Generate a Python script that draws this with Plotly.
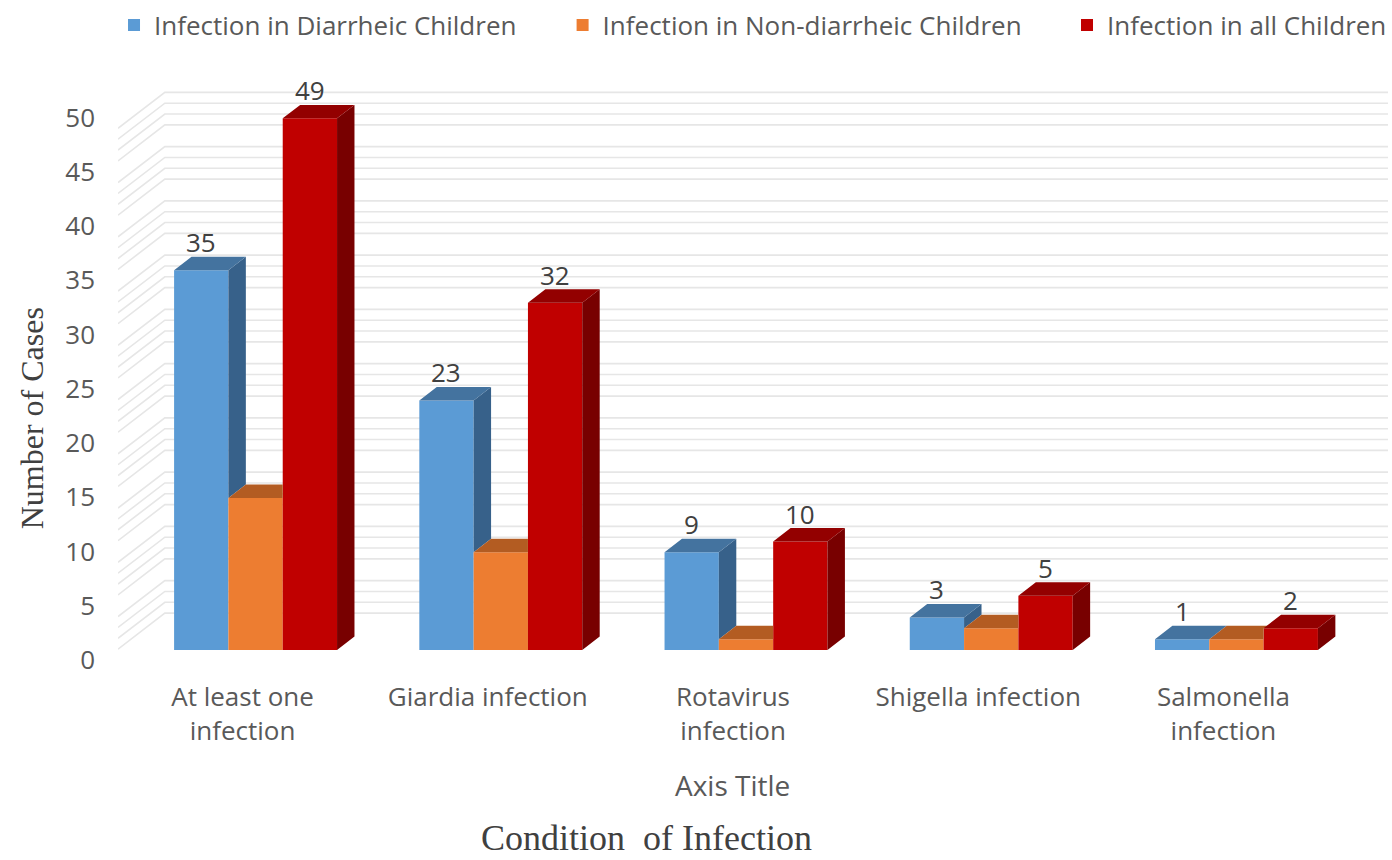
import plotly.graph_objects as go

# ---------------- data ----------------
categories = ["At least one<br>infection", "Giardia infection", "Rotavirus<br>infection",
              "Shigella infection", "Salmonella<br>infection"]
series_names = ["Infection in Diarrheic Children",
                "Infection in Non-diarrheic Children",
                "Infection in all Children"]
diarrheic = [35, 23, 9, 3, 1]
non_diarrheic = [14, 9, 1, 2, 1]
all_children = [49, 32, 10, 5, 2]
series_values = [diarrheic, non_diarrheic, all_children]
show_labels = [True, False, True]
y_ticks = [0, 5, 10, 15, 20, 25, 30, 35, 40, 45, 50]
x_title = "Axis Title"
x_title_2 = "Condition\u00a0 of Infection"
y_title = "Number of Cases"

# ---------------- styles ----------------
front_colors = ["#5B9BD5", "#ED7D31", "#C00000"]
top_colors = ["#44739F", "#B35C22", "#930000"]
side_colors = ["#37618A", "#94501E", "#780000"]

W_FIG, H_FIG = 1392, 860
M_L, M_R, M_T, M_B = 118, 0, 60, 200
X_RANGE = [-0.561, 4.618]
Y_RANGE = [-0.92, 54.38]
BAR_W = 0.2215
OFFSETS = [-1.5 * BAR_W, -0.5 * BAR_W, 0.5 * BAR_W]
DX, DY = 0.0711, 1.244          # depth of the 3-D columns (data units)
WALL_X = -0.37                   # back wall left edge
WALL_DY = 2.4                    # back wall vertical offset
WALL_FRONT_DY = -0.92

plot_w = W_FIG - M_L - M_R
plot_h = H_FIG - M_T - M_B


def px_x(px):
    return (px - M_L) / plot_w


def px_y(py):
    return (H_FIG - M_B - py) / plot_h


TXT = "#595959"
DARK = "#404040"
SANS = "Open Sans"
SERIF = "Liberation Serif"
FS = 26

fig = go.Figure()
xs = list(range(len(categories)))

# front faces
legend_ids = ["legend", "legend2", "legend3"]
for k, vals in enumerate(series_values):
    fig.add_trace(go.Bar(
        x=xs, y=vals, name=series_names[k], width=BAR_W, offset=OFFSETS[k],
        marker=dict(color=front_colors[k], line=dict(width=0)),
        legend=legend_ids[k], hoverinfo="y"))

# side and top faces
for k, vals in enumerate(series_values):
    sx, sy, tx, ty = [], [], [], []
    for i, h in enumerate(vals):
        xl = i + OFFSETS[k]
        xr = xl + BAR_W
        nxt = series_values[k + 1][i] if k + 1 < len(series_values) else None
        base = nxt if nxt is not None else 0
        if h > base:
            sx += [xr, xr, xr + DX, xr + DX, xr, None]
            sy += [base, h, h + DY, base + DY, base, None]
        if nxt is None or nxt <= h:
            px_ = [xl, xr, xr + DX, xl + DX, xl]
            py_ = [h, h, h + DY, h + DY, h]
        elif nxt >= h + DY:
            px_ = [xl, xr, xr, xl + DX, xl]
            py_ = [h, h, h + DY, h + DY, h]
        else:
            cut = xr + (nxt - h) / DY * DX
            px_ = [xl, xr, xr, cut, xr + DX, xl + DX, xl]
            py_ = [h, h, nxt, nxt, h + DY, h + DY, h]
        tx += px_ + [None]
        ty += py_ + [None]
    fig.add_trace(go.Scatter(x=sx, y=sy, mode="lines", fill="toself",
                             fillcolor=side_colors[k], line=dict(width=0),
                             showlegend=False, hoverinfo="skip"))
    fig.add_trace(go.Scatter(x=tx, y=ty, mode="lines", fill="toself",
                             fillcolor=top_colors[k], line=dict(width=0),
                             showlegend=False, hoverinfo="skip"))

# back wall / side wall gridlines
path = ""
for v in range(1, y_ticks[-1]):
    if v % 5 == 0:
        continue
    path += (f"M{X_RANGE[0]},{v + WALL_FRONT_DY} L{WALL_X},{v + WALL_DY} "
             f"L{X_RANGE[1]},{v + WALL_DY} ")
fig.add_shape(type="path", path=path, xref="x", yref="y", layer="below",
              line=dict(color="#E6E6E6", width=1.6))

# data labels
annotations = []
for k, vals in enumerate(series_values):
    if not show_labels[k]:
        continue
    for i, h in enumerate(vals):
        annotations.append(dict(
            x=i + OFFSETS[k] + BAR_W / 2, y=h, xref="x", yref="y",
            text=str(h), showarrow=False, yanchor="middle", yshift=28,
            font=dict(family=SANS, size=FS, color=DARK)))

annotations += [
    dict(x=px_x(734), y=px_y(785), xref="paper", yref="paper", text=x_title,
         showarrow=False, xanchor="center", yanchor="middle",
         font=dict(family=SANS, size=28, color=TXT)),
    dict(x=px_x(648), y=px_y(838), xref="paper", yref="paper", text=x_title_2,
         showarrow=False, xanchor="center", yanchor="middle",
         font=dict(family=SERIF, size=36, color=DARK)),
    dict(x=px_x(32), y=px_y(418), xref="paper", yref="paper", text=y_title,
         showarrow=False, xanchor="center", yanchor="middle", textangle=-90,
         font=dict(family=SERIF, size=32, color=DARK)),
]

leg_font = dict(family=SANS, size=FS, color=TXT)
leg_common = dict(orientation="h", yanchor="middle", xanchor="left",
                  font=leg_font, bgcolor="rgba(0,0,0,0)", itemclick=False)
fig.update_layout(
    width=W_FIG, height=H_FIG,
    margin=dict(l=M_L, r=M_R, t=M_T, b=M_B, pad=0),
    paper_bgcolor="white", plot_bgcolor="white",
    barmode="overlay",
    showlegend=True,
    legend=dict(x=px_x(114), y=px_y(25), **leg_common),
    legend2=dict(x=px_x(564), y=px_y(25), **leg_common),
    legend3=dict(x=px_x(1070), y=px_y(25), **leg_common),
    xaxis=dict(range=X_RANGE, tickvals=xs, ticktext=categories,
               showgrid=False, zeroline=False, showline=False, ticks="",
               tickfont=dict(family=SANS, size=FS, color=TXT),
               ticklabelshift=-13, ticklabelstandoff=19, fixedrange=True),
    yaxis=dict(range=Y_RANGE, tickvals=y_ticks, showgrid=False, zeroline=False,
               showline=False, ticks="",
               tickfont=dict(family=SANS, size=FS, color=TXT),
               ticklabelshift=10, ticklabelstandoff=22, fixedrange=True),
    annotations=annotations,
)

fig.write_html("out.html")
